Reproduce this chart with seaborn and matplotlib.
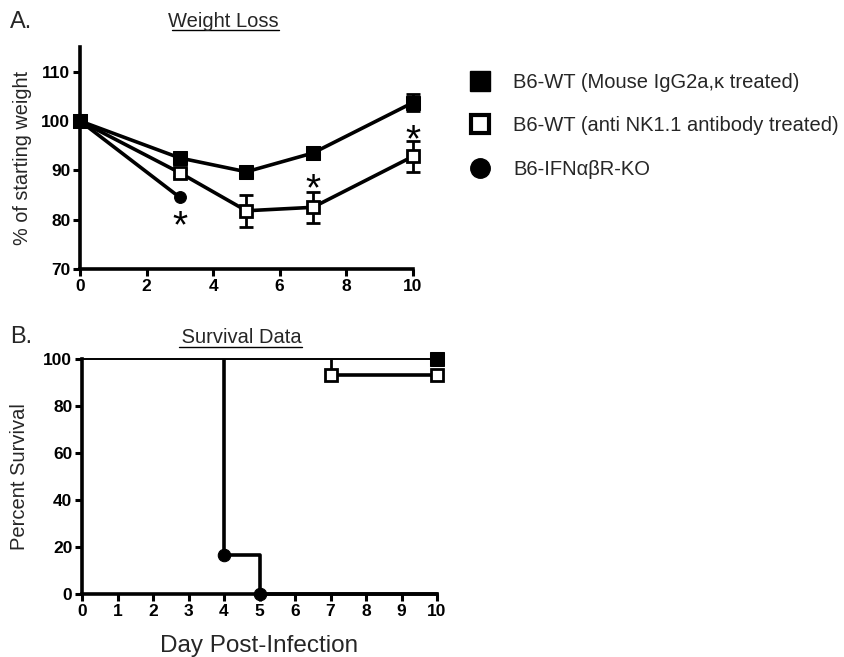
import matplotlib
matplotlib.use("Agg")
import matplotlib.pyplot as plt
import seaborn as sns
import pandas as pd
from matplotlib.lines import Line2D

sns.set_theme(style="ticks")
plt.rcParams['font.family'] = ['Liberation Sans', 'DejaVu Sans']

# ---- Weight loss data ----
days = [0, 3, 5, 7, 10]
igg_weight = [100, 92.5, 89.7, 93.5, 103.7]
igg_err = [0.5, 0.6, 1.0, 1.2, 1.7]
nk_weight = [100, 89.5, 81.8, 82.5, 92.8]
nk_err = [0.5, 0.8, 3.2, 3.2, 3.2]
ko_days = [0, 3]
ko_weight = [100, 84.5]
star_days = [3, 7, 10]
star_y = [80.5, 88.0, 97.8]

# ---- Survival data ----
surv_igg_days = [0, 10]
surv_igg = [100, 100]
surv_nk_days = [0, 7, 10]
surv_nk = [100, 93.3, 93.3]
surv_ko_days = [0, 4, 5, 10]
surv_ko = [100, 16.7, 0, 0]

labels = ["B6-WT (Mouse IgG2a,\u03ba treated)",
          "B6-WT (anti NK1.1 antibody treated)",
          "B6-IFN\u03b1\u03b2R-KO"]

fig = plt.figure(figsize=(8.44, 6.57), dpi=100)
ax1 = fig.add_axes([0.0948, 0.5906, 0.3942, 0.3379])
ax2 = fig.add_axes([0.0972, 0.0959, 0.4206, 0.3577])

lw = 2.6
ms = 8.5
for ax in (ax1, ax2):
    for s in ("top", "right"):
        ax.spines[s].set_visible(False)
    for s in ("left", "bottom"):
        ax.spines[s].set_linewidth(2.6)
        ax.spines[s].set_color("black")
    ax.tick_params(width=2.2, length=5, direction="out", colors="black",
                   labelsize=12.5, pad=2)

# Panel A
df_igg = pd.DataFrame({"day": days, "w": igg_weight})
df_nk = pd.DataFrame({"day": days, "w": nk_weight})
df_ko = pd.DataFrame({"day": ko_days, "w": ko_weight})

ax1.errorbar(days, nk_weight, yerr=nk_err, fmt="none", ecolor="black",
             elinewidth=2, capsize=5, capthick=2, zorder=2, clip_on=False)
ax1.errorbar(days, igg_weight, yerr=igg_err, fmt="none", ecolor="black",
             elinewidth=2, capsize=5, capthick=2, zorder=2, clip_on=False)
sns.lineplot(data=df_ko, x="day", y="w", ax=ax1, color="black", lw=lw,
             marker="o", markersize=ms, markerfacecolor="black",
             markeredgecolor="black", zorder=3, clip_on=False)
sns.lineplot(data=df_nk, x="day", y="w", ax=ax1, color="black", lw=lw,
             marker="s", markersize=ms, markerfacecolor="white",
             markeredgecolor="black", markeredgewidth=2.0, zorder=4, clip_on=False)
sns.lineplot(data=df_igg, x="day", y="w", ax=ax1, color="black", lw=lw,
             marker="s", markersize=ms + 1, markerfacecolor="black",
             markeredgecolor="black", zorder=5, clip_on=False)
for xd, yd in zip(star_days, star_y):
    ax1.annotate("*", xy=(xd, yd), xytext=(0, -7), textcoords="offset points",
                 ha="center", va="center", fontsize=28, color="black")

ax1.set_xlim(0, 10)
ax1.set_ylim(70, 115)
ax1.set_xticks([0, 2, 4, 6, 8, 10])
ax1.set_yticks([70, 80, 90, 100, 110])
ax1.set_xlabel("")
ax1.set_ylabel("% of starting weight", fontsize=14.3, labelpad=7)
for t in ax1.get_xticklabels() + ax1.get_yticklabels():
    t.set_fontweight("bold")

# Panel B
df_s_ko = pd.DataFrame({"day": surv_ko_days, "s": surv_ko})
df_s_nk = pd.DataFrame({"day": surv_nk_days, "s": surv_nk})
df_s_igg = pd.DataFrame({"day": surv_igg_days, "s": surv_igg})

sns.lineplot(data=df_s_igg, x="day", y="s", ax=ax2, color="black", lw=1.4,
             drawstyle="steps-post", zorder=3, clip_on=False)
# KO: thick part after first drop
ax2.vlines(surv_ko_days[1], surv_ko[1], surv_ko[0], color="black", lw=lw,
           zorder=4)
sns.lineplot(data=df_s_ko.iloc[1:], x="day", y="s", ax=ax2, color="black",
             lw=lw, drawstyle="steps-post", marker="o", markersize=ms + 0.5,
             markevery=[0, 1], markerfacecolor="black",
             markeredgecolor="black", zorder=4, clip_on=False)
# NK: thick part after first drop
ax2.vlines(surv_nk_days[1], surv_nk[1], surv_nk[0], color="black", lw=2.0,
           zorder=5)
sns.lineplot(data=df_s_nk.iloc[1:], x="day", y="s", ax=ax2, color="black",
             lw=lw, drawstyle="steps-post", marker="s", markersize=ms,
             markerfacecolor="white", markeredgecolor="black",
             markeredgewidth=2.0, zorder=5, clip_on=False)
sns.lineplot(data=df_s_igg.iloc[1:], x="day", y="s", ax=ax2, color="black",
             lw=0, marker="s", markersize=ms + 1, markerfacecolor="black",
             markeredgecolor="black", zorder=6, clip_on=False)

ax2.set_xlim(0, 10)
ax2.set_ylim(0, 100)
ax2.set_xticks(range(0, 11))
ax2.set_yticks([0, 20, 40, 60, 80, 100])
ax2.set_ylabel("Percent Survival", fontsize=14.5, labelpad=10)
ax2.set_xlabel("Day Post-Infection", fontsize=17.5, labelpad=12)
for t in ax2.get_xticklabels() + ax2.get_yticklabels():
    t.set_fontweight("bold")

# Panel labels and titles
fig.text(0.012, 0.9665, "A.", fontsize=17, ha="left", va="center")
fig.text(0.012, 0.487, "B.", fontsize=17, ha="left", va="center")
titles = [(0.265, 0.968, "Weight Loss"), (0.283, 0.486, " Survival Data")]
fig.canvas.draw()
renderer = fig.canvas.get_renderer()
for x, y, s in titles:
    t = fig.text(x, y, s, fontsize=14.5, ha="center", va="center")
    bb = t.get_window_extent(renderer=renderer).transformed(fig.transFigure.inverted())
    yl = bb.y0 + 0.001
    fig.add_artist(Line2D([bb.x0 + 0.004, bb.x1], [yl, yl], color="black",
                          lw=1.0, transform=fig.transFigure))

# Legend
handles = [
    Line2D([], [], ls="none", marker="s", markersize=14, markerfacecolor="black",
           markeredgecolor="black"),
    Line2D([], [], ls="none", marker="s", markersize=13, markerfacecolor="white",
           markeredgecolor="black", markeredgewidth=3.0),
    Line2D([], [], ls="none", marker="o", markersize=14, markerfacecolor="black",
           markeredgecolor="black"),
]
fig.legend(handles, labels, loc="upper left", bbox_to_anchor=(0.529, 0.916),
           frameon=False, fontsize=14.5, labelspacing=1.2, handletextpad=0.9,
           handlelength=1.5)

fig.savefig("out.png", dpi=100)
